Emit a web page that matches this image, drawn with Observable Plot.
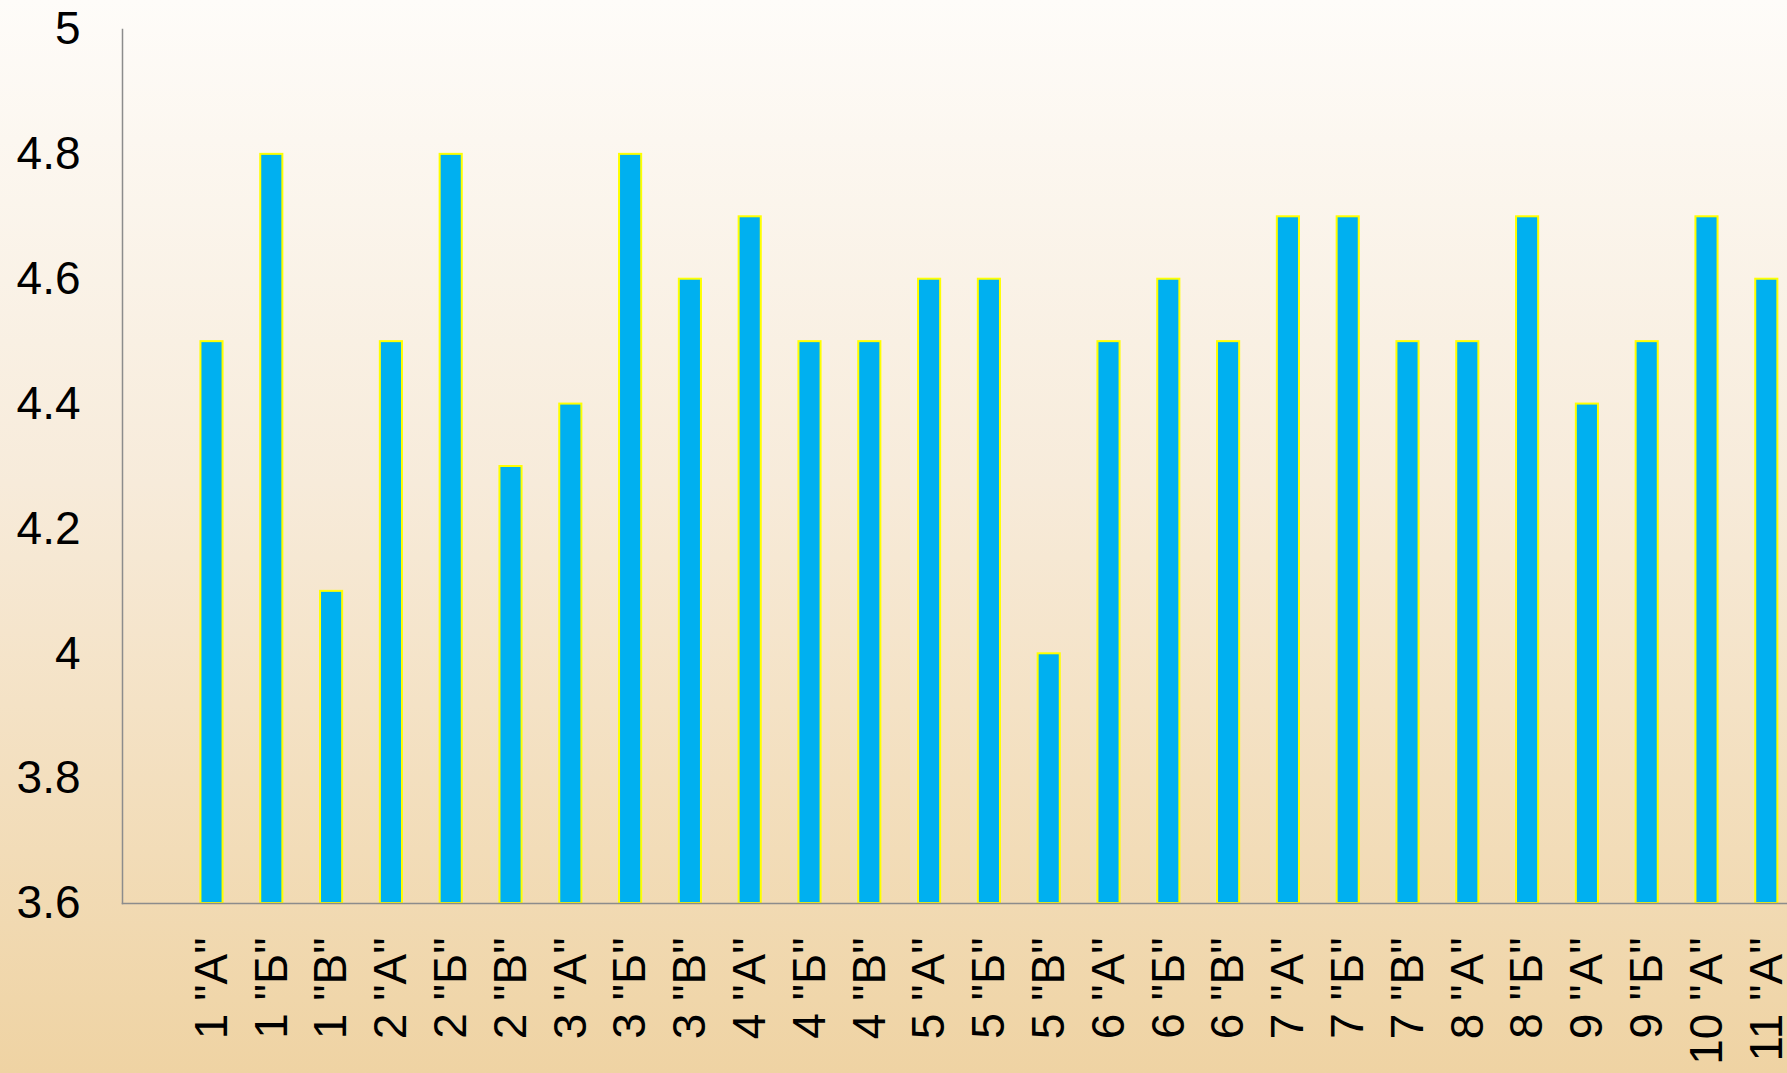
<!DOCTYPE html>
<html><head><meta charset="utf-8">
<script src="https://cdn.jsdelivr.net/npm/d3@7"></script>
<script src="https://cdn.jsdelivr.net/npm/@observablehq/plot@0.6"></script>
<style>
html,body{margin:0;padding:0;}
body{width:1787px;height:1073px;overflow:hidden;background:linear-gradient(to bottom,#fefcf9 0%,#f7ebda 45%,#efd3a3 100%);}
</style></head><body><div id="chart"></div>
<script>
const classes = ['1 "А"','1 "Б"','1 "В"','2 "А"','2 "Б"','2 "В"','3 "А"','3 "Б"','3 "В"','4 "А"','4 "Б"','4 "В"','5 "А"','5 "Б"','5 "В"','6 "А"','6 "Б"','6 "В"','7 "А"','7 "Б"','7 "В"','8 "А"','8 "Б"','9 "А"','9 "Б"','10 "А"','11 "А"'];
const scores = [4.5,4.8,4.1,4.5,4.8,4.3,4.4,4.8,4.6,4.7,4.5,4.5,4.6,4.6,4.0,4.5,4.6,4.5,4.7,4.7,4.5,4.5,4.7,4.4,4.5,4.7,4.6];
const yTicks = [3.6,3.8,4,4.2,4.4,4.6,4.8,5];
const data = classes.map((c,i)=>({cls:c, score:scores[i]}));
const chart = Plot.plot({
  width:1787, height:1073, marginTop:29, marginBottom:170, marginLeft:122, marginRight:0,
  style:{background:"transparent", fontFamily:"'Liberation Sans', Arial, sans-serif", fontSize:"46px", color:"#000", overflow:"hidden"},
  x:{domain:classes, range:[181.6,1796.2], paddingInner:0.63, paddingOuter:0.315, round:false},
  y:{domain:[3.6,5]},
  marks:[
    Plot.barY(data,{x:"cls", y1:yTicks[0], y2:"score", fill:"#00b0f0", stroke:"#ffff00", strokeWidth:2}),
    Plot.frame({anchor:"left", stroke:"#8c8c8c", strokeWidth:1.5}),
    Plot.frame({anchor:"bottom", stroke:"#8c8c8c", strokeWidth:1.5}),
    Plot.axisY(yTicks,{tickSize:0, tickPadding:42, tickFormat:d=>String(d), label:null, fontSize:46, fill:"#000"}),
    Plot.axisX({tickSize:0, tickPadding:34, tickRotate:-90, label:null, fontSize:46, fill:"#000"})
  ]
});
document.getElementById("chart").appendChild(chart);
</script>
</body></html>
